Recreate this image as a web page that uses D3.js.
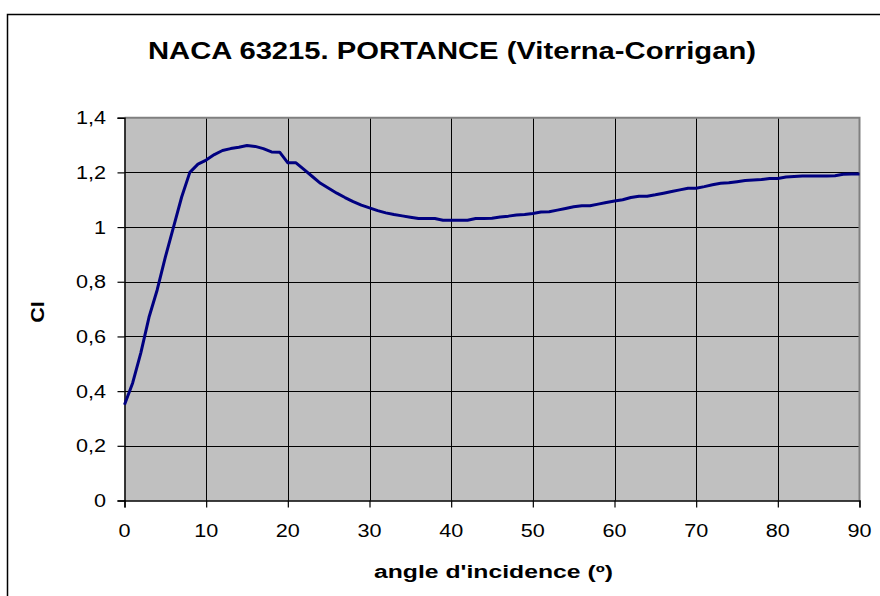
<!DOCTYPE html>
<html><head><meta charset="utf-8">
<script src="https://cdn.jsdelivr.net/npm/d3@7"></script>
<style>body{margin:0;background:#fff}svg{display:block}text{font-family:"Liberation Sans",Arial,sans-serif}</style>
</head><body><svg id="c" width="880" height="596"></svg>
<script>
const angles = d3.range(0, 91);
const cl = [0.35,0.43,0.54,0.67,0.77,0.89,1.00,1.11,1.20,1.23,
1.245,1.265,1.28,1.287,1.292,1.298,1.295,1.287,1.275,1.274,
1.235,1.235,1.21,1.185,1.16,1.142,1.124,1.108,1.093,1.08,
1.07,1.06,1.052,1.046,1.041,1.036,1.031,1.031,1.031,1.025,
1.025,1.025,1.025,1.031,1.031,1.032,1.037,1.04,1.044,1.046,
1.05,1.055,1.056,1.062,1.068,1.074,1.078,1.078,1.084,1.09,
1.095,1.10,1.108,1.113,1.113,1.118,1.124,1.13,1.136,1.142,
1.142,1.148,1.155,1.16,1.162,1.166,1.17,1.172,1.174,1.178,
1.178,1.183,1.185,1.187,1.187,1.187,1.187,1.188,1.193,1.194,1.194];
const xTicks = [0,10,20,30,40,50,60,70,80,90];
const yTicks = [0,0.2,0.4,0.6,0.8,1,1.2,1.4];
const yTickLabels = ["0","0,2","0,4","0,6","0,8","1","1,2","1,4"];
const title = "NACA 63215. PORTANCE (Viterna-Corrigan)";
const xTitle = "angle d'incidence (º)";
const yTitle = "Cl";

const svg = d3.select("#c");
const L=124.5, R=859.5, T=117.7, B=500.5;
const x = d3.scaleLinear().domain([0,90]).range([L,R]);
const y = d3.scaleLinear().domain([0,1.4]).range([B,T]);

function stretch(sel, f){
  sel.each(function(){ const w=this.getComputedTextLength(); d3.select(this).attr("textLength",w*f).attr("lengthAdjust","spacingAndGlyphs"); });
}

svg.append("rect").attr("x",7.5).attr("y",14.5).attr("width",900).attr("height",700)
  .attr("fill","#fff").attr("stroke","#000").attr("stroke-width",1.5);

svg.append("rect").attr("x",L).attr("y",T).attr("width",R-L).attr("height",B-T).attr("fill","#c0c0c0");

svg.append("g").selectAll("line").data(yTicks.slice(1,-1)).join("line")
  .attr("x1",L).attr("x2",R).attr("y1",d=>Math.round(y(d))+0.5).attr("y2",d=>Math.round(y(d))+0.5)
  .attr("stroke","#000").attr("stroke-width",1);
svg.append("g").selectAll("line").data(xTicks.slice(1,-1)).join("line")
  .attr("y1",T).attr("y2",B).attr("x1",d=>Math.round(x(d))+0.5).attr("x2",d=>Math.round(x(d))+0.5)
  .attr("stroke","#000").attr("stroke-width",1);

svg.append("path").attr("d",`M${L},${T}H${R}V${B}`).attr("fill","none").attr("stroke","#808080").attr("stroke-width",2);

const yAxis = d3.axisLeft(y).tickValues(yTicks).tickSize(7).tickFormat("");
const gy = svg.append("g").attr("transform",`translate(${L},0)`).call(yAxis);
const xAxis = d3.axisBottom(x).tickValues(xTicks).tickSize(7).tickFormat("");
const gx = svg.append("g").attr("transform",`translate(0,${B})`).call(xAxis);
[gy,gx].forEach(g=>{g.selectAll("path").attr("stroke","#000").attr("stroke-width",1.5);g.selectAll("line").attr("stroke","#000").attr("stroke-width",1.2);});

const yl = svg.append("g").selectAll("text").data(yTicks).join("text")
  .attr("x",106).attr("y",d=>y(d)+6.5).attr("text-anchor","end").attr("font-size",18)
  .text((d,i)=>yTickLabels[i]);
stretch(yl,1.2);
const xl = svg.append("g").selectAll("text").data(xTicks).join("text")
  .attr("x",d=>x(d)).attr("y",537).attr("text-anchor","middle").attr("font-size",18)
  .text(d=>d);
stretch(xl,1.2);

svg.append("path").datum(angles.map((a,i)=>[a,cl[i]]))
  .attr("d",d3.line().x(d=>x(d[0])).y(d=>y(d[1])))
  .attr("fill","none").attr("stroke","#000080").attr("stroke-width",3).attr("stroke-linejoin","round");

svg.append("text").attr("x",148).attr("y",58.5).attr("font-size",24).attr("font-weight","bold")
  .attr("textLength",608).attr("lengthAdjust","spacingAndGlyphs").text(title);
svg.append("text").attr("x",374).attr("y",578).attr("font-size",18).attr("font-weight","bold")
  .attr("textLength",239).attr("lengthAdjust","spacingAndGlyphs").text(xTitle);
const yt = svg.append("text").attr("transform","translate(44,312) rotate(-90)").attr("text-anchor","middle")
  .attr("font-size",18).attr("font-weight","bold").text(yTitle);
stretch(yt,1.2);
</script></body></html>
